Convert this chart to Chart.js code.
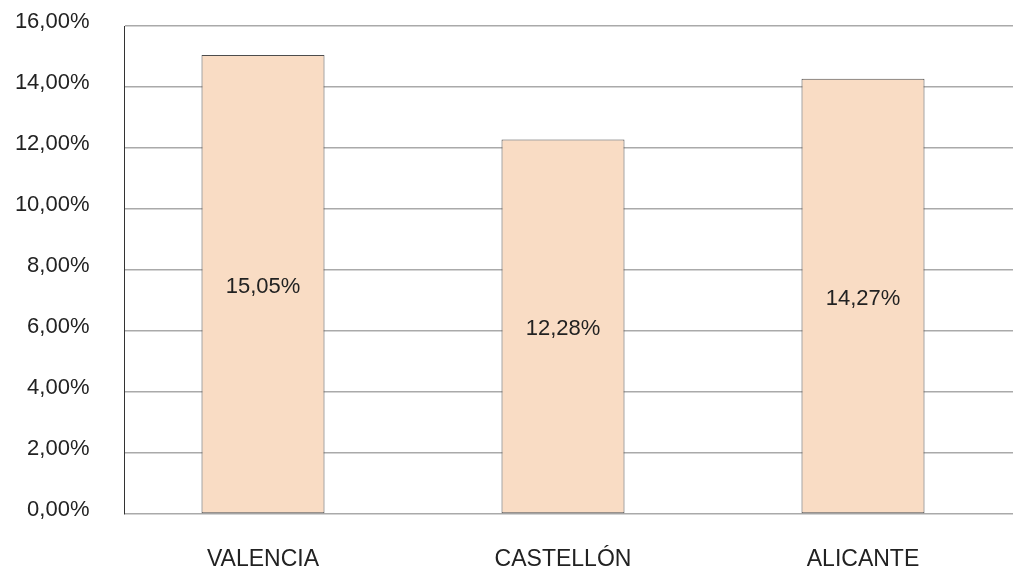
<!DOCTYPE html>
<html>
<head>
<meta charset="utf-8">
<script src="https://cdn.jsdelivr.net/npm/chart.js@4/dist/chart.umd.min.js"></script>
<style>
  html, body { margin: 0; padding: 0; background: #ffffff; }
  canvas { display: block; }
</style>
</head>
<body>
<canvas id="c" width="1013" height="574"></canvas>
<script>
const categories = ['VALENCIA', 'CASTELLÓN', 'ALICANTE'];
const values = [15.05, 12.28, 14.27];
const yTicks = [0, 2, 4, 6, 8, 10, 12, 14, 16];

const fmt = v => v.toFixed(2).replace('.', ',') + '%';

const valueLabels = {
  id: 'valueLabels',
  afterDatasetsDraw(chart) {
    const ctx = chart.ctx;
    const meta = chart.getDatasetMeta(0);
    ctx.save();
    ctx.font = '22px "Liberation Sans", Arial, sans-serif';
    ctx.fillStyle = '#222222';
    ctx.textAlign = 'center';
    ctx.textBaseline = 'middle';
    meta.data.forEach((el, i) => {
      const v = chart.data.datasets[0].data[i].y;
      ctx.fillText(fmt(v), el.x, (el.y + el.base) / 2 + 3);
    });
    ctx.restore();
  }
};

new Chart(document.getElementById('c'), {
  type: 'bar',
  data: {
    datasets: [{
      data: values.map((v, i) => ({ x: i, y: v })),
      backgroundColor: '#F9DCC4',
      borderColor: '#4d4d4d',
      borderWidth: 1,
      borderSkipped: false,
      categoryPercentage: 1,
      barPercentage: 0.41
    }]
  },
  options: {
    responsive: false,
    animation: false,
    layout: { padding: { top: 26, right: 0, bottom: 0, left: 0 } },
    plugins: { legend: { display: false }, tooltip: { enabled: false } },
    scales: {
      x: {
        type: 'linear',
        offset: false,
        min: -0.4617,
        max: 2.5,
        grid: { display: false, drawTicks: false },
        border: { display: false },
        afterFit(scale) { scale.height = 60; },
        ticks: {
          stepSize: 1,
          includeBounds: false,
          autoSkip: false,
          maxRotation: 0,
          padding: 32,
          color: '#222222',
          font: { family: '"Liberation Sans", Arial, sans-serif', size: 23 },
          callback: v => (Number.isInteger(v) && categories[v] !== undefined) ? categories[v] : ''
        }
      },
      y: {
        min: yTicks[0],
        max: yTicks[yTicks.length - 1],
        afterFit(scale) {
          scale.width = 124.5;
          scale.paddingTop = 0;
          scale.paddingBottom = 0;
        },
        afterBuildTicks(scale) { scale.ticks = yTicks.map(v => ({ value: v })); },
        grid: { color: '#AAAAAA', lineWidth: 1.5, drawTicks: false },
        border: { display: true, color: '#333333', width: 1 },
        ticks: {
          padding: 35,
          labelOffset: -4,
          color: '#222222',
          font: { family: '"Liberation Sans", Arial, sans-serif', size: 22 },
          callback: v => fmt(v)
        }
      }
    }
  },
  plugins: [valueLabels]
});
</script>
</body>
</html>
